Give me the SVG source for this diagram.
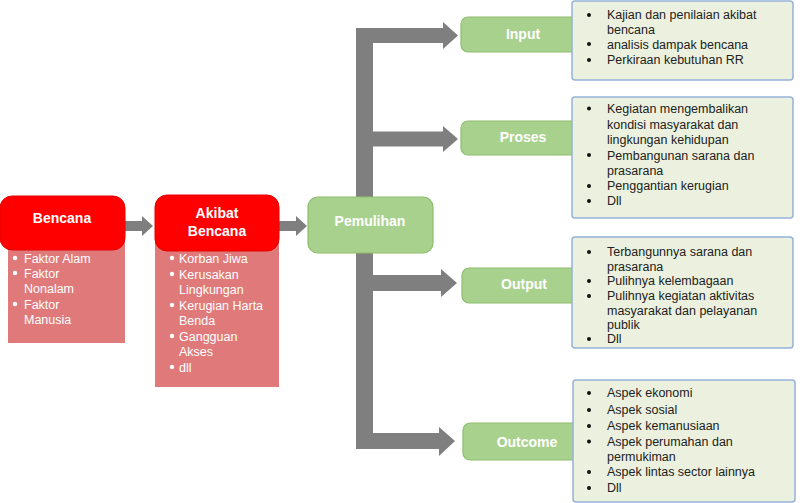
<svg xmlns="http://www.w3.org/2000/svg" width="800" height="503" viewBox="0 0 800 503">
<style>
.hdr{fill:#FF0000;stroke:#E60000;stroke-width:1}
.pink{fill:#E07A7A}
.grn{fill:#A9D18E;stroke:#8DBE6E;stroke-width:1.2}
.tb{fill:#EBF1DE;stroke:#95B3D7;stroke-width:1.5}
.arr{fill:#7F7F7F}
.ht{font-family:"Liberation Sans",Arial,sans-serif;font-weight:bold;font-size:14px;fill:#FFFFFF;text-anchor:middle}
.wt{font-family:"Liberation Sans",Arial,sans-serif;font-size:12.5px;fill:#FFFFFF}
.bt{font-family:"Liberation Sans",Arial,sans-serif;font-size:12.5px;fill:#222222}
.wb{fill:#FFFFFF}
.db{fill:#111111}
</style>
<rect width="800" height="503" fill="#FFFFFF"/>
<g id="connectors">
<polygon class="arr" points="125,221 142,221 142,216 153,226 142,236 142,231 125,231"/>
<polygon class="arr" points="279,221 296,221 296,216 307,226 296,236 296,231 279,231"/>
<rect class="arr" x="356" y="28" width="17" height="421"/>
<polygon class="arr" points="373,28 443,28 443,22 458,35.5 443,49 443,43 373,43"/>
<polygon class="arr" points="373,131.5 443,131.5 443,126 458,139 443,152 443,146.5 373,146.5"/>
<polygon class="arr" points="373,275 441,275 441,269 457,283 441,297 441,291 373,291"/>
<polygon class="arr" points="373,433 439,433 439,427 455,441 439,456 439,449 373,449"/>
</g>
<g id="bencana">
<rect class="pink" x="8" y="240" width="117" height="103"/>
<rect class="hdr" x="0" y="196" width="125" height="54" rx="12"/>
<text class="ht" x="62" y="223">Bencana</text>
<circle class="wb" cx="15" cy="258" r="2.2"/>
<text class="wt" x="24" y="262.5">Faktor Alam</text>
<circle class="wb" cx="15" cy="273" r="2.2"/>
<text class="wt" x="24" y="277.5">Faktor</text>
<text class="wt" x="24" y="292.5">Nonalam</text>
<circle class="wb" cx="15" cy="304" r="2.2"/>
<text class="wt" x="24" y="308.5">Faktor</text>
<text class="wt" x="24" y="323.5">Manusia</text>
</g>
<g id="akibat">
<rect class="pink" x="155" y="240" width="124" height="147"/>
<rect class="hdr" x="155" y="195" width="124" height="56" rx="12"/>
<text class="ht" x="217" y="218">Akibat</text>
<text class="ht" x="217" y="236">Bencana</text>
<circle class="wb" cx="172" cy="258" r="2.2"/>
<text class="wt" x="179" y="262.5">Korban Jiwa</text>
<circle class="wb" cx="172" cy="274" r="2.2"/>
<text class="wt" x="179" y="278.5">Kerusakan</text>
<text class="wt" x="179" y="293.5">Lingkungan</text>
<circle class="wb" cx="172" cy="305" r="2.2"/>
<text class="wt" x="179" y="309.5">Kerugian Harta</text>
<text class="wt" x="179" y="324.5">Benda</text>
<circle class="wb" cx="172" cy="336" r="2.2"/>
<text class="wt" x="179" y="340.5">Gangguan</text>
<text class="wt" x="179" y="355.5">Akses</text>
<circle class="wb" cx="172" cy="367" r="2.2"/>
<text class="wt" x="179" y="371.5">dll</text>
</g>
<g id="pemulihan">
<rect class="grn" x="308" y="197" width="125" height="56" rx="10"/>
<text class="ht" x="370" y="226">Pemulihan</text>
</g>
<g id="input">
<rect class="grn" x="461" y="17" width="129" height="35" rx="7"/>
<text class="ht" x="523" y="39">Input</text>
</g>
<g id="proses">
<rect class="grn" x="461" y="121" width="129" height="34" rx="7"/>
<text class="ht" x="523" y="142">Proses</text>
</g>
<g id="output">
<rect class="grn" x="462" y="268" width="128" height="35" rx="7"/>
<text class="ht" x="524" y="289">Output</text>
</g>
<g id="outcome">
<rect class="grn" x="463" y="423" width="128" height="37" rx="7"/>
<text class="ht" x="527" y="447">Outcome</text>
</g>
<g id="input-detail">
<rect class="tb" x="572" y="1" width="221" height="79" rx="3"/>
<circle class="db" cx="589" cy="15" r="2"/>
<text class="bt" x="607" y="19">Kajian dan penilaian akibat</text>
<text class="bt" x="607" y="33.5">bencana</text>
<circle class="db" cx="589" cy="44" r="2"/>
<text class="bt" x="607" y="48.5">analisis dampak bencana</text>
<circle class="db" cx="589" cy="60" r="2"/>
<text class="bt" x="607" y="64">Perkiraan kebutuhan RR</text>
</g>
<g id="proses-detail">
<rect class="tb" x="572" y="97" width="221" height="121" rx="3"/>
<circle class="db" cx="589" cy="108.5" r="2"/>
<text class="bt" x="607" y="113">Kegiatan mengembalikan</text>
<text class="bt" x="607" y="128.5">kondisi masyarakat dan</text>
<text class="bt" x="607" y="144">lingkungan kehidupan</text>
<circle class="db" cx="589" cy="155" r="2"/>
<text class="bt" x="607" y="159.5">Pembangunan sarana dan</text>
<text class="bt" x="607" y="175">prasarana</text>
<circle class="db" cx="589" cy="186" r="2"/>
<text class="bt" x="607" y="190">Penggantian kerugian</text>
<circle class="db" cx="589" cy="201" r="2"/>
<text class="bt" x="607" y="205">Dll</text>
</g>
<g id="output-detail">
<rect class="tb" x="572" y="237" width="221" height="111" rx="3"/>
<circle class="db" cx="589" cy="252" r="2"/>
<text class="bt" x="607" y="256">Terbangunnya sarana dan</text>
<text class="bt" x="607" y="270.5">prasarana</text>
<circle class="db" cx="589" cy="281" r="2"/>
<text class="bt" x="607" y="285">Pulihnya kelembagaan</text>
<circle class="db" cx="589" cy="296" r="2"/>
<text class="bt" x="607" y="300">Pulihnya kegiatan aktivitas</text>
<text class="bt" x="607" y="314.5">masyarakat dan pelayanan</text>
<text class="bt" x="607" y="329">publik</text>
<circle class="db" cx="589" cy="339" r="2"/>
<text class="bt" x="607" y="343">Dll</text>
</g>
<g id="outcome-detail">
<rect class="tb" x="573" y="380" width="222" height="122" rx="3"/>
<circle class="db" cx="589" cy="393" r="2"/>
<text class="bt" x="607" y="397">Aspek ekonomi</text>
<circle class="db" cx="589" cy="410" r="2"/>
<text class="bt" x="607" y="414">Aspek sosial</text>
<circle class="db" cx="589" cy="426" r="2"/>
<text class="bt" x="607" y="430">Aspek kemanusiaan</text>
<circle class="db" cx="589" cy="441.5" r="2"/>
<text class="bt" x="607" y="445.5">Aspek perumahan dan</text>
<text class="bt" x="607" y="461">permukiman</text>
<circle class="db" cx="589" cy="472" r="2"/>
<text class="bt" x="607" y="476">Aspek lintas sector lainnya</text>
<circle class="db" cx="589" cy="488" r="2"/>
<text class="bt" x="607" y="492">Dll</text>
</g>
</svg>
